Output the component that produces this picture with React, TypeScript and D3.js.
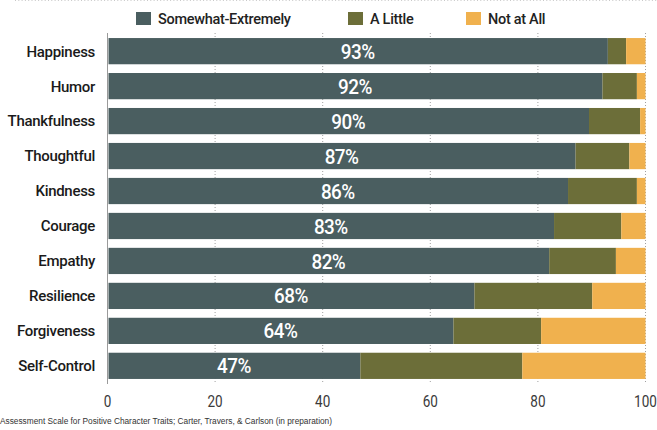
import React from "react";
import * as d3 from "d3";

const categories = ["Happiness", "Humor", "Thankfulness", "Thoughtful", "Kindness", "Courage", "Empathy", "Resilience", "Forgiveness", "Self-Control"];
const somewhatExtremely = [93, 92, 89.5, 87, 85.6, 83, 82.1, 68.2, 64.3, 47];
const aLittle = [3.4, 6.4, 9.5, 10, 12.8, 12.5, 12.4, 21.9, 16.3, 30.1];
const notAtAll = [3.6, 1.6, 1, 3, 1.6, 4.5, 5.5, 9.9, 19.4, 22.9];
const seriesNames = ["Somewhat-Extremely", "A Little", "Not at All"];
const seriesColors = ["#4a5e60", "#6c6e39", "#f0b14e"];
const xTicks = [0, 20, 40, 60, 80, 100];
const caption = "Assessment Scale for Positive Character Traits; Carter, Travers, & Carlson (in preparation)";

const W = 657;
const H = 430;
const FONT = "Roboto, 'Noto Sans', sans-serif";

export default function App() {
  const x = d3.scaleLinear().domain([0, 100]).range([107.5, 645.5]);
  const y = d3.scaleBand<string>().domain(categories).range([33.5, 383.5]).paddingInner(0.25).paddingOuter(0.13);

  const rows = categories.map((c, i) => ({
    cat: c,
    vals: [somewhatExtremely[i], aLittle[i], notAtAll[i]],
  }));
  const stack = d3.stack<any>().keys(["0", "1", "2"]).value((d: any, k: string) => d.vals[+k]);
  const stacked = stack(rows as any);

  const legendX = [136, 348, 466];

  return (
    <svg width={W} height={H} style={{ position: "absolute", left: 0, top: 0, background: "#fff" }} fontFamily={FONT}>
      <line x1={15} x2={W} y1={0.5} y2={0.5} stroke="#c8c8c8" strokeDasharray="1,2.3" />
      {/* legend */}
      {seriesNames.map((n, i) => (
        <g key={n}>
          <rect x={legendX[i]} y={12} width={15} height={13} fill={seriesColors[i]} />
          <text x={legendX[i] + 22} y={23.5} fontSize={14.5} fill="#222" fontWeight={500} letterSpacing={-0.3}>{n}</text>
        </g>
      ))}
      {/* gridlines */}
      {xTicks.slice(1).map((t) => (
        <line key={t} x1={x(t)} x2={x(t)} y1={33} y2={384} stroke="#a0a0a0" strokeDasharray="1,2" />
      ))}
      {/* bars */}
      {stacked.map((s, si) => (
        <g key={si} fill={seriesColors[si]}>
          {s.map((d: any, i: number) => (
            <rect key={i} x={x(d[0]) + (si === 0 ? 1 : 0)} y={y(categories[i])} width={x(d[1]) - x(d[0]) - (si === 0 ? 1 : 0)} height={y.bandwidth()} />
          ))}
        </g>
      ))}
      {/* y axis line */}
      <line x1={107.5} x2={107.5} y1={33} y2={384} stroke="#9a9a9a" />
      {/* category labels */}
      {categories.map((c) => (
        <text key={c} x={95} y={(y(c) as number) + y.bandwidth() / 2} dy="0.36em" textAnchor="end" fontSize={15} fontWeight={500} fill="#1a1a1a" letterSpacing={-0.3}>{c}</text>
      ))}
      {/* value labels */}
      {somewhatExtremely.map((v, i) => (
        <g key={i} transform={`translate(${(x(0) + x(v)) / 2},${(y(categories[i]) as number) + y.bandwidth() / 2}) scale(0.9,1)`}>
          <text dy="0.36em" textAnchor="middle" fontSize={21} fontWeight={500} fill="#fff" letterSpacing={-0.6}>{`${Math.round(v)}%`}</text>
        </g>
      ))}
      {/* x tick labels */}
      {xTicks.map((t) => (
        <g key={t} transform={`translate(${x(t)},407) scale(0.82,1)`}>
          <text textAnchor="middle" fontSize={16.5} fill="#3a3a3a">{t}</text>
        </g>
      ))}
      <text x={0} y={424} fontSize={8.3} fill="#333" fontFamily="'Liberation Sans', Arial, sans-serif">{caption}</text>
    </svg>
  );
}
